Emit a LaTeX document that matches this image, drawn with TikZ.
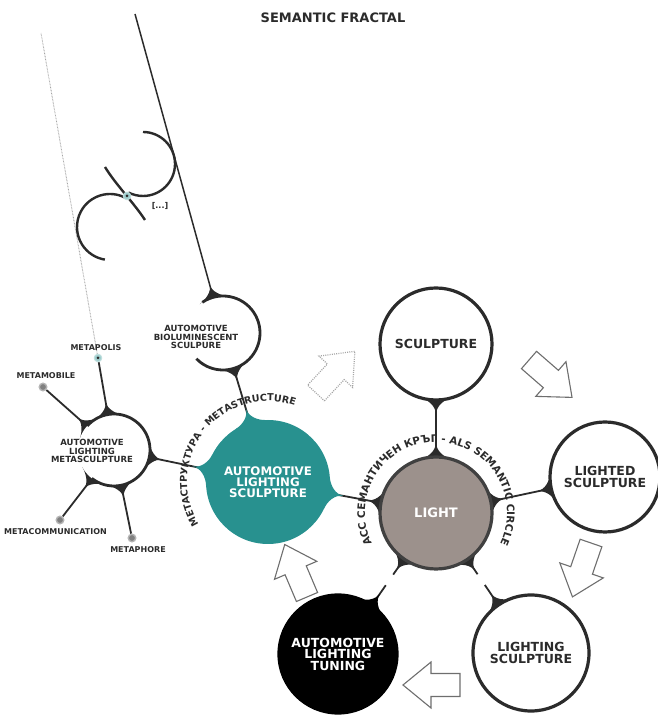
\documentclass[tikz,border=0pt]{standalone}
\usepackage{fontspec}
\setmainfont{DejaVu Sans}
\usetikzlibrary{calc, backgrounds, decorations.text}

\definecolor{ink}{HTML}{2B2B2B}
\definecolor{alsteal}{HTML}{28918F}
\definecolor{stonegrey}{HTML}{9C918C}
\definecolor{arrowgrey}{HTML}{6E6E6E}
\definecolor{dotgrey}{HTML}{A5A5A5}

\newcommand{\bigfont}{\bfseries\fontsize{12.5}{11.5}\selectfont}
\newcommand{\tealfont}{\bfseries\fontsize{11.8}{11}\selectfont}
\newcommand{\midfont}{\bfseries\fontsize{8.5}{8.6}\selectfont}
\newcommand{\tinyfont}{\bfseries\fontsize{8}{8}\selectfont}
\newcommand{\arcfontA}{\bfseries\fontsize{9.6}{9.6}\selectfont}
\newcommand{\arcfontB}{\bfseries\fontsize{10.4}{10.4}\selectfont}

% cusp where a connector leaves a circle: [colour]{circle}{towards}{radius}{half angle}{height}
\newcommand{\cusp}[6][ink]{%
  \pgfmathsetmacro{\cuspmid}{#5/2}%
  \pgfmathsetmacro{\cuspneg}{-#5/2}%
  \fill[#1] ($(#2)!#4pt!#5:(#3)$)
      .. controls ($(#2)!#4pt+0.5pt!\cuspmid:(#3)$) and ($(#2)!#4pt+6pt!(#3)$) .. ($(#2)!#4pt+#6pt!(#3)$)
      .. controls ($(#2)!#4pt+6pt!(#3)$) and ($(#2)!#4pt+0.5pt!\cuspneg:(#3)$) .. ($(#2)!#4pt!-#5:(#3)$)
      -- ($(#2)!#4pt-5pt!(#3)$) -- cycle;}

\tikzset{
  blockarrow/.pic={
    \path[pic actions] (0,-11.5) -- (29,-11.5) -- (29,-23) -- (57,0) -- (29,23) -- (29,11.5) -- (0,11.5) -- cycle;
  }
}

\begin{document}
\begin{tikzpicture}[
    x=1pt, y=1pt,
    bigcircle/.style={circle, draw=ink, line width=3.2pt, fill=white, minimum size=#1, inner sep=0pt, font=\bigfont, text=ink, align=center},
    hollow/.style={circle, fill=white, minimum size=#1, inner sep=0pt},
    hollowarc/.style={draw=ink, line width=2.8pt},
    fracarc/.style={draw=ink, line width=2.4pt},
    midlabel/.style={font=\midfont, text=ink, align=center, inner sep=1pt},
    tinylabel/.style={font=\tinyfont, text=ink, inner sep=1pt},
    satdot/.style={circle, fill=ink!60, draw=ink!35, line width=1.4pt, minimum size=7.5pt, inner sep=0pt},
    tealdot/.style={circle, fill=alsteal!45, draw=alsteal!30, line width=1pt, minimum size=7.5pt, inner sep=0pt,
      path picture={\fill[ink] (path picture bounding box.center) circle (1.5pt);}},
    link/.style={draw=ink, line width=1.8pt},
    dotlink/.style={draw=dotgrey, line width=0.9pt, dash pattern=on 0.7pt off 0.8pt},
    whitearrow/.style={draw=arrowgrey, fill=white, line width=1.1pt},
    dottedarrow/.style={draw=dotgrey, fill=white, line width=1.2pt, dash pattern=on 1pt off 1.2pt},
    title/.style={font=\bfseries\fontsize{13}{13}\selectfont, text=ink}
  ]

  \useasboundingbox (0,0) rectangle (657,717);

  % Title
  \node[title] (title) at (333,699) {SEMANTIC FRACTAL};

  % Semantic circle
  \node[bigcircle=112pt, fill=stonegrey, draw=ink!90, text=white, font=\bfseries\fontsize{13}{13}\selectfont] (light) at (436,204) {LIGHT};
  \node[bigcircle=112pt] (sculp) at (436,373) {SCULPTURE};
  \node[bigcircle=110pt] (lighted) at (605,240) {LIGHTED\\SCULPTURE};
  \node[bigcircle=116pt] (lighting) at (531,64) {LIGHTING\\SCULPTURE};
  \node[bigcircle=118pt, fill=black, draw=black, text=white] (tuning) at (338,63) {AUTOMOTIVE\\LIGHTING\\TUNING};
  \node[bigcircle=124pt, fill=alsteal, draw=none, text=white, font=\tealfont] (als) at (268,235) {AUTOMOTIVE\\LIGHTING\\SCULPTURE};

  % Fractal side
  \node[hollow=74pt] (bio) at (223,384) {};
  \node[hollow=72pt] (metasc) at (114,267) {};
  \node[midlabel] (biolbl) at (196,380) {AUTOMOTIVE\\BIOLUMINESCENT\\SCULPURE};
  \node[midlabel] (metasclbl) at (92,266) {AUTOMOTIVE\\LIGHTING\\METASCULPTURE};

  \node[tealdot] (metapolis) at (98,359) {};
  \node[satdot] (metamobile) at (43,330) {};
  \node[satdot] (metacomm) at (60,197) {};
  \node[satdot] (metaphore) at (132,179) {};

  \node[tinylabel] (metapolislbl) at (96,369) {METAPOLIS};
  \node[tinylabel] (metamobilelbl) at (46,341) {METAMOBILE};
  \node[tinylabel, anchor=east] (metacommlbl) at (108,185) {METACOMMUNICATION};
  \node[tinylabel] (metaphorelbl) at (138,167) {METAPHORE};

  \coordinate (linetop) at (135,703);
  \coordinate (dottop) at (41,684);

  \begin{scope}[on background layer]
    % connectors
    \draw[link] (sculp) -- (light);
    \draw[link] (light) -- (lighted);
    \draw[link] (light) -- ($(light)!74pt!(lighting)$);
    \draw[link] ($(light)!87pt!(lighting)$) -- (lighting);
    \draw[link] (light) -- ($(light)!75pt!(tuning)$);
    \draw[link] ($(light)!88pt!(tuning)$) -- (tuning);
    \draw[link] (light) -- (als);
    \draw[link] (als) -- (bio);
    \draw[link] (als) -- (metasc);
    \draw[link, line width=1.5pt] (bio) -- (linetop);
    \draw[link] (metasc) -- (metapolis);
    \draw[link] (metasc) -- (metamobile);
    \draw[link] (metasc) -- (metacomm);
    \draw[link] (metasc) -- (metaphore);
    \draw[dotlink] (metapolis) -- (dottop);

    % cusps
    \cusp{sculp}{light}{56}{16}{15}
    \cusp{light}{sculp}{56}{16}{15}
    \cusp{light}{lighted}{56}{16}{15}
    \cusp{light}{lighting}{56}{16}{15}
    \cusp{light}{tuning}{56}{16}{15}
    \cusp{light}{als}{56}{16}{15}
    \cusp{lighted}{light}{55}{16}{15}
    \cusp{lighting}{light}{58}{16}{15}
    \cusp[black]{tuning}{light}{59}{16}{15}
    \cusp[alsteal]{als}{light}{62}{15}{15}
    \cusp[alsteal]{als}{bio}{62}{15}{15}
    \cusp[alsteal]{als}{metasc}{62}{15}{15}
    \cusp{bio}{als}{37}{24}{13}
    \cusp{bio}{linetop}{37}{24}{13}
    \cusp{metasc}{als}{36}{24}{13}
    \cusp{metasc}{metapolis}{36}{24}{13}
    \cusp{metasc}{metamobile}{36}{24}{13}
    \cusp{metasc}{metacomm}{36}{24}{13}
    \cusp{metasc}{metaphore}{36}{24}{13}
  \end{scope}

  % open circles
  \draw[hollowarc] (bio.center) ++(124:37) arc[start angle=124, end angle=-136, radius=37];
  \draw[hollowarc] (metasc.center) ++(138:36) arc[start angle=138, end angle=-128, radius=36];

  % fractal continuation
  \draw[fracarc] (143,585) arc[start angle=90, end angle=-117, radius=32];
  \draw[fracarc] (110,490) ++(62:33) arc[start angle=62, end angle=261, radius=33];
  \draw[fracarc] (105,550) .. controls (116,532) and (134,514) .. (145,497);
  \node[tealdot] (fracdot) at (127,521) {};
  \node[tinylabel] (fraclbl) at (160,511) {[...]};

  % curved captions
  \path[decorate, decoration={text along path, text align=center, text color=ink,
      text={|\arcfontA|МЕТАСТРУКТУРА - METASTRUCTURE}}]
    (als.center) ++(220:81) arc[start angle=220, end angle=62, radius=81];
  \path[decorate, decoration={text along path, text align=center, text color=ink,
      text={|\arcfontB|АСС СЕМАНТИЧЕН КРЪГ - ALS SEMANTIC CIRCLE}}]
    (light.center) ++(215:71) arc[start angle=215, end angle=-35, radius=71];

  % block arrows
  \pic[dottedarrow, rotate=47] at (316,324) {blockarrow};
  \pic[whitearrow, rotate=-41] at (529,357) {blockarrow};
  \pic[whitearrow, rotate=-109] at (591,174) {blockarrow};
  \pic[whitearrow, rotate=180] at (460,32) {blockarrow};
  \pic[whitearrow, rotate=113] at (307,120) {blockarrow};

\end{tikzpicture}
\end{document}
